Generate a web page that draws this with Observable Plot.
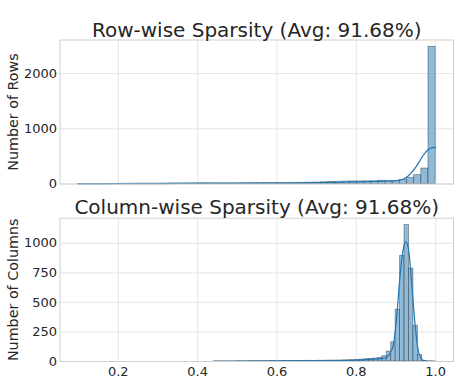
<!DOCTYPE html>
<html><head><meta charset="utf-8">
<script src="https://cdn.jsdelivr.net/npm/d3@7"></script>
<script src="https://cdn.jsdelivr.net/npm/@observablehq/plot@0.6"></script>
<style>body{margin:0;background:#fff} #c svg{display:block}</style>
</head><body><div id="c"></div>
<script>
// Row-wise sparsity histogram (50 bins)
const rowMin = 0.098, rowMax = 1.0;
const rowCounts = [2,1,2,2,3,3,4,5,6,7,6,7,8,9,8,10,11,12,12,11,12,11,12,13,14,14,15,16,17,18,20,22,24,27,30,36,40,44,46,46,47,48,58,47,55,75,112,160,280,2484];
const rowKdeX = [0.098,0.15,0.2,0.3,0.4,0.5,0.6,0.65,0.7,0.75,0.8,0.85,0.88,0.9,0.91,0.92,0.93,0.94,0.95,0.96,0.97,0.98,0.99,1.0];
const rowKdeY = [3,4,5,8,11,13,16,19,24,31,40,48,55,62,72,95,140,215,305,420,530,615,655,665];
// Column-wise sparsity histogram (50 bins)
const colMin = 0.44, colMax = 1.0;
const colCounts = [1,1,1,1,1,2,2,2,3,2,3,3,3,4,3,4,4,5,4,5,5,6,5,6,6,7,7,8,8,9,10,11,13,16,20,22,25,30,45,84,163,438,893,1154,786,303,55,6,1,1];
const colKdeX = [0.44,0.5,0.55,0.6,0.65,0.7,0.75,0.8,0.835,0.852,0.865,0.873,0.881,0.888,0.894,0.902,0.911,0.919,0.925,0.9316,0.9375,0.944,0.951,0.957,0.963,0.969,0.975,0.985,1.0];
const colKdeY = [1,2,3,4,5,6,8,12,18,22,26,30,50,90,149,387,752,963,1011,949,752,472,219,78,28,8,3,1,0];

const xTicks = [0.2,0.4,0.6,0.8,1.0];
const rowYTicks = [0,1000,2000];
const colYTicks = [0,250,500,750,1000];
const titles = ["Row-wise Sparsity (Avg: 91.68%)", "Column-wise Sparsity (Avg: 91.68%)"];
const yLabels = ["Number of Rows", "Number of Columns"];

function toBins(min, max, counts) {
  const w = (max - min) / counts.length;
  return counts.map((c, i) => ({x1: min + i * w, x2: min + (i + 1) * w, y: c}));
}
function toPts(xs, ys) { return xs.map((x, i) => ({x, y: ys[i]})); }

function panel(o) {
  return Plot.plot({
    width: 459, height: o.height,
    marginLeft: 59.5, marginRight: 6, marginTop: o.mt, marginBottom: o.mb,
    x: {domain: [0.053, 1.045], axis: null},
    y: {domain: [0, o.yMax], axis: null},
    style: {fontFamily: "DejaVu Sans", fontSize: "13px", color: "#262626", background: "#fff"},
    marks: [
      Plot.gridX(xTicks, {stroke: "#e3e3e3", strokeOpacity: 1, strokeWidth: 0.9}),
      Plot.gridY(o.yTicks, {stroke: "#e3e3e3", strokeOpacity: 1, strokeWidth: 0.9}),
      Plot.rectY(toBins(o.min, o.max, o.counts), {x1: "x1", x2: "x2", y: "y", inset: 0,
        fill: "#8fbbd9", stroke: "#000", strokeOpacity: 0.42, strokeWidth: 0.8}),
      Plot.lineY(toPts(o.kx, o.ky), {x: "x", y: "y", stroke: "#1f77b4", strokeWidth: 1.2, curve: "monotone-x"}),
      Plot.frame({stroke: "#cfcfcf", strokeWidth: 1}),
      Plot.axisY(o.yTicks, {tickSize: 0, tickPadding: 3, fontSize: 13, label: null, tickFormat: d => String(d)}),
      o.showX ? Plot.axisX(xTicks, {tickSize: 0, tickPadding: 5, fontSize: 13, label: null, tickFormat: d => d.toFixed(1)}) : null,
      Plot.text([o.title], {frameAnchor: "top", lineAnchor: "bottom", dy: o.titleDy, fontSize: 20, fill: "#262626"}),
      Plot.text([o.ylabel], {frameAnchor: "left", textAnchor: "middle", lineAnchor: "middle", rotate: -90, dx: -47, fontSize: 14.3, fill: "#262626"})
    ]
  });
}

const c = document.getElementById("c");
c.append(panel({height: 192, mt: 39.5, mb: 8.5, yMax: 2608, yTicks: rowYTicks, counts: rowCounts, min: rowMin, max: rowMax,
  kx: rowKdeX, ky: rowKdeY, showX: false, title: titles[0], titleDy: -3, ylabel: yLabels[0]}));
c.append(panel({height: 190, mt: 25.7, mb: 21, yMax: 1212, yTicks: colYTicks, counts: colCounts, min: colMin, max: colMax,
  kx: colKdeX, ky: colKdeY, showX: true, title: titles[1], titleDy: -4.4, ylabel: yLabels[1]}));
</script>
</body></html>
